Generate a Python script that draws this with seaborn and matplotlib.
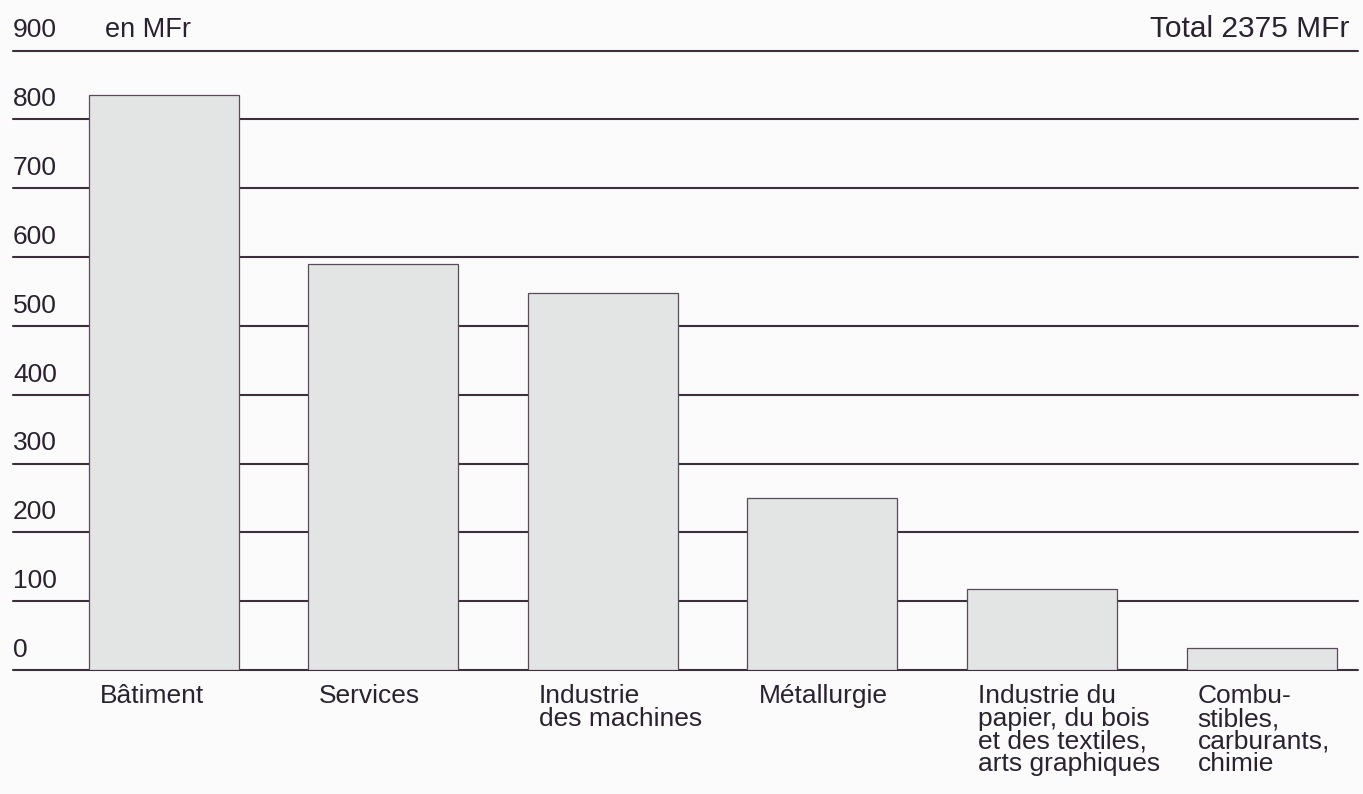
import matplotlib
matplotlib.use("Agg")
import matplotlib.pyplot as plt
import matplotlib.transforms as mtransforms
import seaborn as sns
import pandas as pd

categories = ["Bâtiment", "Services", "Industrie\ndes machines", "Métallurgie",
              "Industrie du\npapier, du bois\net des textiles,\narts graphiques",
              "Combu-\nstibles,\ncarburants,\nchimie"]
values = [835, 590, 548, 250, 118, 32]
y_ticks = [0, 100, 200, 300, 400, 500, 600, 700, 800, 900]
y_tick_labels = ["0", "100", "200", "300", "400", "500", "600", "700", "800", "900"]
unit_label = "en MFr"
total_label = "Total 2375 MFr"

sns.set_theme(style="white")
plt.rcParams["font.family"] = ["Liberation Sans", "DejaVu Sans"]

txt_color = "#2b2230"
grid_color = "#3d2f3d"
bg = "#fbfbfb"

W, H = 1363, 794
x0, x1, y0, y1 = 13, 1358, 670, 50.5
fig = plt.figure(figsize=(W / 100, H / 100), dpi=100, facecolor=bg)
ax = fig.add_axes([x0 / W, 1 - y0 / H, (x1 - x0) / W, (y0 - y1) / H])
ax.set_facecolor(bg)

df = pd.DataFrame({"cat": categories, "val": values})
sns.barplot(data=df, x="cat", y="val", order=categories, color="#e3e5e5",
            saturation=1, width=0.683, edgecolor="#5a4a5a", linewidth=0.9,
            ax=ax, zorder=3)

for v in y_ticks:
    ax.axhline(v, color=grid_color, lw=1.5, zorder=1, clip_on=False)

ax.set_xlim(-0.686, 5.439)
ax.set_ylim(0, 900)
ax.set_xticks([])
ax.set_yticks([])
ax.set_xlabel("")
ax.set_ylabel("")
for s in ax.spines.values():
    s.set_visible(False)

fs = 19
trans_y = mtransforms.blended_transform_factory(ax.transAxes, ax.transData)
for v, lab in zip(y_ticks, y_tick_labels):
    ax.text(0.0, v + 19, lab, transform=trans_y, ha="left", va="baseline",
            fontsize=fs, color=txt_color, clip_on=False)

ax.text((105 - x0) / (x1 - x0), 919, unit_label, transform=trans_y, ha="left",
        va="baseline", fontsize=fs + 0.5, color=txt_color, clip_on=False)
ax.text((1349 - x0) / (x1 - x0), 919, total_label, transform=trans_y, ha="right",
        va="baseline", fontsize=21.5, color=txt_color, clip_on=False)

for i, lab in enumerate(categories):
    ax.text(i - 0.3415 + 0.05, -21, lab, ha="left", va="top", fontsize=fs,
            color=txt_color, linespacing=0.93, clip_on=False)

fig.savefig("out.png", dpi=100, facecolor=bg)
